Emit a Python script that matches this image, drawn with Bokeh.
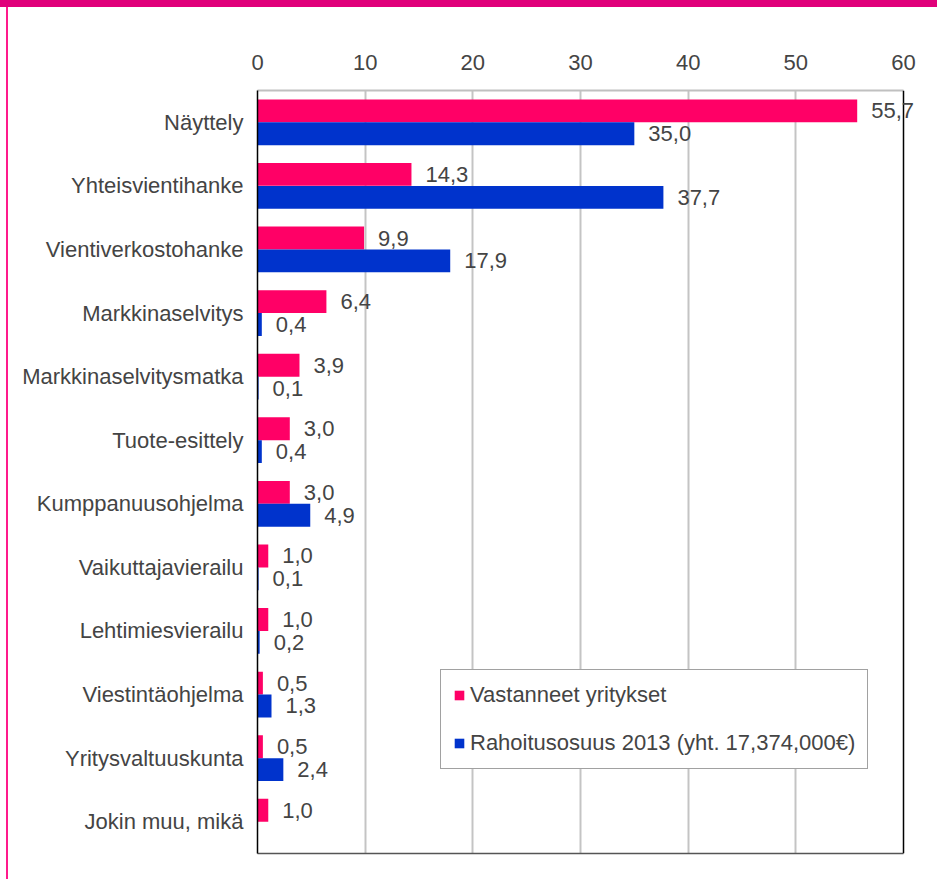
from bokeh.plotting import figure
from bokeh.models import (FactorRange, ColumnDataSource, LabelSet, Span, Legend,
                          LegendItem, FixedTicker, LinearAxis)
from bokeh.core.properties import value
from bokeh.transform import dodge
from bokeh.embed import file_html
from bokeh.resources import INLINE

categories = ["Näyttely", "Yhteisvientihanke", "Vientiverkostohanke", "Markkinaselvitys",
              "Markkinaselvitysmatka", "Tuote-esittely", "Kumppanuusohjelma",
              "Vaikuttajavierailu", "Lehtimiesvierailu", "Viestintäohjelma",
              "Yritysvaltuuskunta", "Jokin muu, mikä"]
respondents = [55.7, 14.3, 9.9, 6.4, 3.9, 3.0, 3.0, 1.0, 1.0, 0.5, 0.5, 1.0]
funding = [35.0, 37.7, 17.9, 0.4, 0.1, 0.4, 4.9, 0.1, 0.2, 1.3, 2.4, None]
x_ticks = [0, 10, 20, 30, 40, 50, 60]
series_names = ["Vastanneet yritykset", "Rahoitusosuus 2013 (yht. 17,374,000€)"]

PINK = "#ff0066"
BLUE = "#0033cc"
MAGENTA = "#e0007a"
LINE_PINK = "#ff1a8c"
TXT = "#444444"
FONT = "Liberation Sans"
FS = "22px"

W, H = 937, 879
LEFT, RIGHT, TOP, BOTTOM = 257, 14, 90, 26
AXIS_PX = 646  # pixels from 0 to 60
x_max = x_ticks[-1] * (W - LEFT - RIGHT) / AXIS_PX


def fmt(v):
    return f"{v:.1f}".replace(".", ",")


src_r = ColumnDataSource(dict(cat=categories, val=respondents,
                              lab=[fmt(v) for v in respondents]))
f_cats = [c for c, v in zip(categories, funding) if v is not None]
f_vals = [v for v in funding if v is not None]
src_f = ColumnDataSource(dict(cat=f_cats, val=f_vals, lab=[fmt(v) for v in f_vals]))

p = figure(width=W, height=H,
           y_range=FactorRange(*reversed(categories)),
           x_range=(0, x_max), x_axis_location="above",
           output_backend="svg", toolbar_location=None,
           min_border_left=LEFT, min_border_right=RIGHT,
           min_border_top=TOP, min_border_bottom=BOTTOM)
p.styles = {
    "background": (f"linear-gradient({MAGENTA},{MAGENTA}) 0 0 / 100% 7px no-repeat, "
                   f"linear-gradient({LINE_PINK},{LINE_PINK}) 6px 0 / 2px 100% no-repeat, "
                   "white"),
}
p.y_range.range_padding = 0
p.outline_line_color = None
p.background_fill_color = "white"
p.border_fill_alpha = 0

# top axis
xa = p.xaxis[0]
xa.ticker = FixedTicker(ticks=x_ticks)
xa.bounds = (x_ticks[0], x_ticks[-1])
xa.axis_line_color = "#c0c0c0"
xa.axis_line_width = 2
xa.major_tick_line_color = None
xa.minor_tick_line_color = None
xa.major_tick_out = 0
xa.major_label_standoff = 21
xa.major_label_text_font = FONT
xa.major_label_text_font_size = "22px"
xa.major_label_text_color = TXT

# bottom border line as an unlabeled axis
xb = LinearAxis(ticker=FixedTicker(ticks=[]), bounds=(x_ticks[0], x_ticks[-1]),
                axis_line_color="#555555", axis_line_width=1.5,
                major_tick_line_color=None, minor_tick_line_color=None,
                major_label_text_color=None, major_tick_out=0, minor_tick_out=0)
p.add_layout(xb, "below")

ya = p.yaxis[0]
ya.axis_line_color = "black"
ya.axis_line_width = 1.5
ya.major_tick_line_color = None
ya.major_tick_out = 0
ya.major_label_standoff = 14
ya.major_label_text_font = FONT
ya.major_label_text_font_size = FS
ya.major_label_text_color = TXT

p.xgrid.ticker = FixedTicker(ticks=x_ticks[1:-1])
p.xgrid.grid_line_color = "#c4c4c4"
p.xgrid.grid_line_width = 2
p.ygrid.grid_line_color = None

r1 = p.hbar(y=dodge("cat", 0.18, range=p.y_range), left=0, right="val", height=0.36,
            fill_color=PINK, line_color=None, source=src_r)
r2 = p.hbar(y=dodge("cat", -0.18, range=p.y_range), left=0, right="val", height=0.36,
            fill_color=BLUE, line_color=None, source=src_f)

p.add_layout(Span(location=x_ticks[-1], dimension="height", line_color="black",
                  line_width=1.5))

for src, off in ((src_r, 0.18), (src_f, -0.18)):
    p.add_layout(LabelSet(x="val", y=dodge("cat", off, range=p.y_range), text="lab",
                          source=src, x_offset=14, text_baseline="middle",
                          text_font=value(FONT), text_font_size=value(FS),
                          text_color=TXT))

legend = Legend(items=[LegendItem(label=series_names[0], renderers=[r1]),
                       LegendItem(label=series_names[1], renderers=[r2])],
                location=(183, 84), margin=0, padding=12, spacing=22,
                label_height=22, glyph_width=12, glyph_height=12, label_standoff=5,
                label_text_font=FONT, label_text_font_size=FS, label_text_color=TXT,
                border_line_color="#444444", border_line_width=1.5,
                background_fill_color="white", background_fill_alpha=1)
p.add_layout(legend)

open("out.html", "w").write(file_html(p, INLINE))
